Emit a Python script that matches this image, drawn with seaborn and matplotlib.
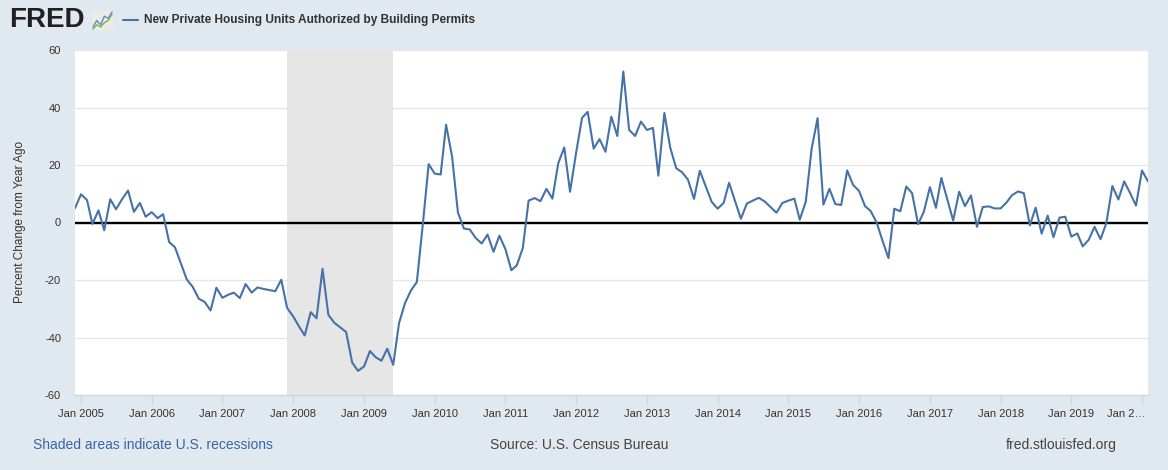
import numpy as np
import pandas as pd
import matplotlib
matplotlib.use("Agg")
import matplotlib.pyplot as plt
import matplotlib.transforms as mtransforms
import seaborn as sns

# Building permits, percent change from year ago, monthly Dec 2004 - Feb 2020
start_month = "2004-12-01"
pct_change = [
    5.0,
    9.8, 7.8, -0.5, 4.2, -2.7, 8.1, 4.6, 8.1, 11.1, 3.7, 6.8, 2.0,             # 2005
    3.6, 1.5, 2.9, -6.8, -8.6, -14.3, -19.8, -22.4, -26.5, -27.6, -30.6, -22.7,  # 2006
    -26.2, -25.1, -24.4, -26.3, -21.4, -24.4, -22.6, -23.1, -23.5, -23.9, -19.9, -29.7,  # 2007
    -32.6, -36.2, -39.3, -31.2, -33.3, -16.1, -32.1, -34.9, -36.5, -38.1, -48.7, -51.6,  # 2008
    -50.1, -44.7, -46.8, -48.1, -43.9, -49.5, -35.0, -28.0, -23.6, -20.7, -0.5, 20.3,    # 2009
    17.0, 16.7, 34.0, 22.9, 3.5, -2.1, -2.4, -5.4, -7.3, -4.2, -10.2, -4.6,      # 2010
    -9.2, -16.6, -14.9, -8.9, 7.6, 8.5, 7.4, 11.7, 8.3, 20.6, 26.1, 10.7,        # 2011
    24.1, 36.4, 38.5, 25.7, 29.0, 24.6, 36.8, 30.1, 52.5, 32.2, 30.1, 35.1,      # 2012
    32.2, 32.9, 16.3, 38.1, 26.1, 18.9, 17.5, 14.9, 8.2, 18.0, 12.5, 7.2,        # 2013
    4.8, 6.8, 13.8, 7.5, 1.3, 6.6, 7.6, 8.6, 7.3, 5.4, 3.4, 6.8,                 # 2014
    7.6, 8.3, 1.0, 7.2, 25.5, 36.3, 6.2, 11.7, 6.4, 6.1, 18.1, 13.1,             # 2015
    11.0, 5.7, 4.0, 0.0, -6.3, -12.4, 4.8, 3.9, 12.5, 10.2, -0.6, 3.8,           # 2016
    12.3, 5.1, 15.5, 8.0, 0.7, 10.7, 5.7, 9.4, -1.5, 5.4, 5.6, 4.9,              # 2017
    4.9, 7.0, 9.5, 10.8, 10.2, -1.0, 5.2, -3.9, 2.4, -5.1, 1.7, 2.0,             # 2018
    -4.9, -3.8, -8.3, -6.0, -1.5, -5.8, -0.2, 12.7, 8.0, 14.3, 10.2, 5.9,        # 2019
    18.1, 14.3,                                                                  # 2020
]
recession_start = "2007-12-01"
recession_end = "2009-06-01"
tick_years = list(range(2005, 2021))
tick_labels = [f"Jan {y}" for y in tick_years[:-1]] + ["Jan 2\u2026"]
y_ticks = [-60, -40, -20, 0, 20, 40, 60]

# little FRED logo graph
icon_blue = [2, 5, 3, 7, 6, 9]
icon_green = [1, 3, 2, 4, 5, 8]

dates = pd.date_range(start_month, periods=len(pct_change), freq="MS")
df = pd.DataFrame({"date": dates, "pct": pct_change})

sns.set_style("white")
plt.rcParams['font.family'] = ['Liberation Sans', 'DejaVu Sans']
plt.rcParams['axes.unicode_minus'] = False

bg = "#e1e9f0"
W, H = 1168, 470
fig = plt.figure(figsize=(W / 100, H / 100), dpi=100, facecolor=bg)
ax = fig.add_axes([75 / W, 75 / H, 1073 / W, 345 / H])
ax.set_facecolor("white")

ax.set_axisbelow(True)
ax.yaxis.grid(True, color="#e6e6e6", lw=1)
ax.axvspan(pd.Timestamp(recession_start), pd.Timestamp(recession_end),
           color="#e6e6e6", lw=0, zorder=1)
ax.axhline(0, color="black", lw=1.7, zorder=2)
sns.lineplot(data=df, x="date", y="pct", color="#4572a7", lw=1.5, ax=ax, zorder=3)

ax.set_xlim(dates[0], dates[-1])
ax.set_ylim(-60, 60)
ax.set_yticks(y_ticks)
ax.set_xticks([pd.Timestamp(f"{y}-01-01") for y in tick_years])
ax.set_xticklabels(tick_labels)
ax.set_xlabel("")
ax.set_ylabel("")

for s in ["top", "right", "left"]:
    ax.spines[s].set_visible(False)
ax.spines["bottom"].set_color("#ccd6eb")
ax.spines["bottom"].set_linewidth(1)

ax.tick_params(axis="x", length=7, width=1, color="#ccd6eb", direction="out",
               labelsize=8, labelcolor="#333333", pad=3, bottom=True)
ax.tick_params(axis="y", length=0, pad=10, labelsize=8, labelcolor="#333333")

# last label is cut short and pushed left, as in the source chart
last = ax.get_xticklabels()[-1]
last.set_horizontalalignment("right")
last.set_transform(last.get_transform() +
                   mtransforms.ScaledTranslation(4 / 100, 0, fig.dpi_scale_trans))

fig.text(20 / W, 1 - 222 / H, "Percent Change from Year Ago", rotation=90,
         ha="center", va="center", fontsize=8.5, color="#333333")

# header
fig.text(9 / W, 1 - 20 / H, "FRED", fontsize=20, fontweight="bold",
         color="#231f20", ha="left", va="center")
iax = fig.add_axes([92 / W, 1 - 30 / H, 21 / W, 19 / H])
iax.set_facecolor("#ebebe6")
iax.plot(icon_blue, color="#5b8fc7", lw=1)
iax.plot(icon_green, color="#7ab648", lw=1)
iax.set_xticks([])
iax.set_yticks([])
for s in iax.spines.values():
    s.set_visible(False)
fig.lines.append(plt.Line2D([123 / W, 138 / W], [1 - 20 / H, 1 - 20 / H],
                            transform=fig.transFigure, color="#4572a7", lw=1.5))
fig.text(144 / W, 1 - 20 / H, "New Private Housing Units Authorized by Building Permits",
         fontsize=8.6, fontweight="bold", color="#333333", ha="left", va="center")

# footer
fig.text(33 / W, 1 - 445 / H, "Shaded areas indicate U.S. recessions",
         fontsize=10, color="#3a64a6", ha="left", va="center")
fig.text(579 / W, 1 - 445 / H, "Source: U.S. Census Bureau",
         fontsize=10, color="#444444", ha="center", va="center")
fig.text(1117 / W, 1 - 445 / H, "fred.stlouisfed.org",
         fontsize=10, color="#444444", ha="right", va="center")

fig.savefig("out.png", dpi=100, facecolor=bg)
